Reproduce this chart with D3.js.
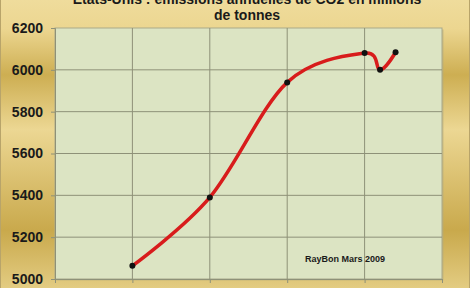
<!DOCTYPE html>
<html>
<head>
<meta charset="utf-8">
<script src="https://cdn.jsdelivr.net/npm/d3@7"></script>
<style>
  body { margin: 0; }
  svg { display: block; }
  text { font-family: Arial, "Liberation Sans", sans-serif; }
</style>
</head>
<body>
<svg id="chart" width="470" height="288"></svg>
<script>
// Etats-Unis : émissions annuelles de CO2 (millions de tonnes)
var years = [1990, 1995, 2000, 2005, 2006, 2007];
var emissions = [5063, 5390, 5940, 6080, 6000, 6084];
var yTicks = [5000, 5200, 5400, 5600, 5800, 6000, 6200];
var xGrid = [1985, 1990, 1995, 2000, 2005, 2010];
var titleLines = ["Etats-Unis : émissions annuelles de CO2 en millions", "de tonnes"];
var credit = "RayBon Mars 2009";

var width = 470,
    height = 288,
    margin = { top: 28, right: 28, bottom: 9, left: 55 };

var svg = d3.select('#chart');

// gold background, banded vertically
var defs = svg.append('defs');
var grad = defs.append('linearGradient')
    .attr('id', 'gold')
    .attr('x1', 0).attr('y1', 0).attr('x2', 0).attr('y2', 1);
[[0, '#efdc9c'], [0.1, '#ecd690'], [0.26, '#cdae52'], [0.45, '#ecd793'],
 [0.8, '#c9a94c'], [1, '#e3cc82']].forEach(function(s) {
    grad.append('stop').attr('offset', s[0]).attr('stop-color', s[1]);
});

svg.append('rect')
    .attr('width', width).attr('height', height)
    .style('fill', 'url(#gold)');

svg.append('rect')
    .attr('x', 0.5).attr('y', -1)
    .attr('width', width - 1).attr('height', height + 2)
    .style('fill', 'none')
    .style('stroke', '#b8a46a');

var x = d3.scaleLinear()
    .domain([1985, 2010])
    .range([margin.left, width - margin.right]);

var y = d3.scaleLinear()
    .domain([5000, 6200])
    .range([height - margin.bottom, margin.top]);

// plot area
svg.append('rect')
    .attr('x', x(1985) + 1.5)
    .attr('y', y(6200) + 1.5)
    .attr('width', x(2010) - x(1985))
    .attr('height', y(5000) - y(6200))
    .style('fill', '#b9ad7c')
    .style('opacity', 0.6);

svg.append('rect')
    .attr('x', x(1985))
    .attr('y', y(6200))
    .attr('width', x(2010) - x(1985))
    .attr('height', y(5000) - y(6200))
    .style('fill', '#dce4c3')
    .style('stroke', '#a9a98a');

// grid
svg.append('g')
    .selectAll('line')
    .data(yTicks.slice(1, -1))
    .enter().append('line')
    .attr('x1', x(1985)).attr('x2', x(2010))
    .attr('y1', d => y(d)).attr('y2', d => y(d))
    .style('stroke', '#8e9178');

svg.append('g')
    .selectAll('line')
    .data(xGrid.slice(1, -1))
    .enter().append('line')
    .attr('x1', d => x(d)).attr('x2', d => x(d))
    .attr('y1', y(6200)).attr('y2', y(5000))
    .style('stroke', '#8e9178');

// axes
var yAxis = svg.append('g')
    .attr('transform', 'translate(' + x(1985) + ',0)')
    .call(d3.axisLeft(y).tickValues(yTicks).tickSize(4).tickPadding(8).tickFormat(d3.format('d')));

var xAxis = svg.append('g')
    .attr('transform', 'translate(0,' + y(5000) + ')')
    .call(d3.axisBottom(x).tickValues(xGrid).tickSize(4).tickFormat(''));

[yAxis, xAxis].forEach(function(a) {
    a.select('.domain').style('stroke', '#8e9178');
    a.selectAll('.tick line').style('stroke', '#8e9178');
});

yAxis.selectAll('.tick text')
    .style('font-size', '14px')
    .style('font-weight', 'bold')
    .style('fill', '#1a1a1a');

// series
var line = d3.line()
    .x((d, i) => x(years[i]))
    .y(d => y(d))
    .curve(d3.curveCardinal.tension(0));

svg.append('path')
    .datum(emissions)
    .attr('d', line)
    .style('fill', 'none')
    .style('stroke', '#d81c1c')
    .style('stroke-width', 3.5)
    .style('stroke-linecap', 'round');

svg.append('g')
    .selectAll('circle')
    .data(emissions)
    .enter().append('circle')
    .attr('cx', (d, i) => x(years[i]))
    .attr('cy', d => y(d))
    .attr('r', 3)
    .style('fill', '#111');

// title
svg.append('g')
    .selectAll('text')
    .data(titleLines)
    .enter().append('text')
    .attr('x', 247)
    .attr('y', (d, i) => 4 + i * 16)
    .attr('text-anchor', 'middle')
    .style('font-size', '14px')
    .style('font-weight', 'bold')
    .style('fill', '#1a1a1a')
    .text(d => d);

svg.append('text')
    .attr('x', 305)
    .attr('y', 262)
    .style('font-size', '9px')
    .style('font-weight', 'bold')
    .style('fill', '#1a1a1a')
    .text(credit);
</script>
</body>
</html>
